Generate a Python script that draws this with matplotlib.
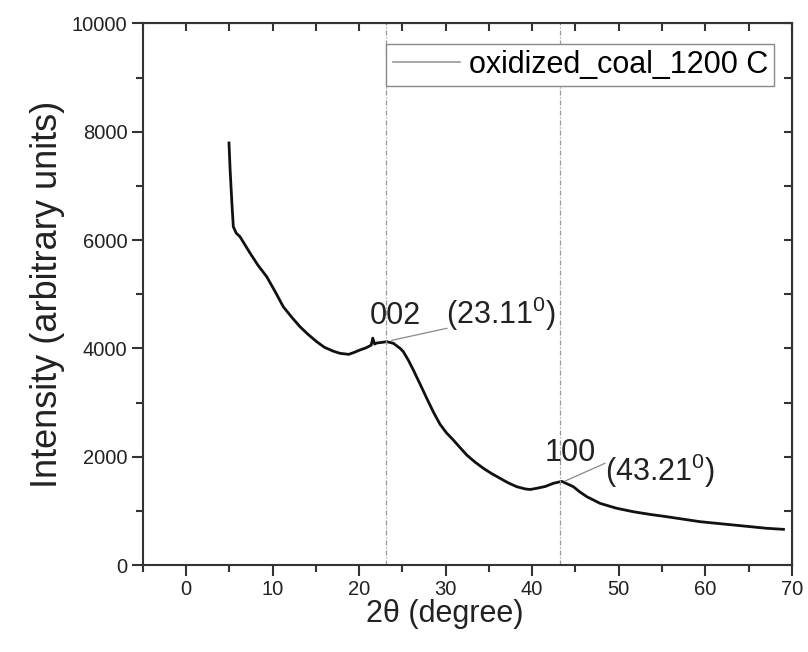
import matplotlib
matplotlib.use("Agg")
import matplotlib.pyplot as plt
from matplotlib.lines import Line2D
from matplotlib.ticker import MultipleLocator

# 2-theta (degree) and intensity
two_theta = [4.97, 5.1, 5.3, 5.47, 5.8, 6.24, 7.4, 8.3, 9.33, 10.3, 11.24, 12.2,
             13.17, 14.1, 15.1, 16.0, 17.0, 17.8, 18.8, 19.5, 20.1, 20.8, 21.4,
             21.58, 21.8, 22.04, 22.6, 23.19, 23.96, 24.73, 25.11, 25.7, 26.27,
             27.05, 27.82, 28.6, 29.35, 30.1, 30.89, 31.6, 32.44, 33.4, 34.36,
             35.3, 36.29, 37.2, 38.22, 39.2, 39.76, 40.53, 41.5, 42.45, 43.42,
             44.76, 45.5, 46.31, 47.84, 49.7, 51.69, 53.6, 55.55, 59.4, 63.25,
             67.11, 69.03]
intensity = [7793, 7300, 6700, 6248, 6130, 6063, 5761, 5540, 5324, 5050, 4770, 4580,
             4401, 4260, 4124, 4020, 3950, 3909, 3890, 3930, 3971, 4010, 4060,
             4190, 4080, 4100, 4110, 4125, 4094, 4002, 3940, 3780, 3601,
             3340, 3078, 2820, 2600, 2440, 2308, 2180, 2031, 1900, 1786,
             1690, 1601, 1520, 1446, 1405, 1395, 1417, 1450, 1509, 1545,
             1446, 1350, 1262, 1139, 1050, 984, 935, 892, 800, 739,
             678, 659]

series_label = "oxidized_coal_1200 C"
peaks = [23.11, 43.21]
peak_names = ["002", "100"]
peak_texts = [r"(23.11$^\mathregular{0}$)", r"(43.21$^\mathregular{0}$)"]

plt.rcParams['font.family'] = ['Liberation Sans', 'DejaVu Sans']
plt.rcParams['mathtext.fontset'] = 'custom'
plt.rcParams['mathtext.rm'] = 'Liberation Sans'
plt.rcParams['mathtext.it'] = 'Liberation Sans:italic'

fig = plt.figure(figsize=(8.08, 6.52), dpi=100)
ax = fig.add_axes([0.1766, 0.1334, 0.8034, 0.8306])

ax.plot(two_theta, intensity, color='#111111', lw=2.0, solid_joinstyle='round')

for xp in peaks:
    ax.axvline(xp, color='#999999', lw=0.9, ls=(0, (4, 1.5, 1, 1.5)))

# peak labels and leader lines
name_pos = [(24.15, 4607), (44.38, 2068)]
text_pos = [(30.05, 4635), (48.42, 1740)]
leaders = [((23.78, 4149), (30.13, 4371)), ((43.8, 1551), (48.4, 1878))]
for i in range(len(peaks)):
    ax.text(name_pos[i][0], name_pos[i][1], peak_names[i], fontsize=22,
            ha='center', va='center', color='#222222')
    ax.text(text_pos[i][0], text_pos[i][1], peak_texts[i], fontsize=22,
            ha='left', va='center', color='#222222')
    (x0, y0), (x1, y1) = leaders[i]
    ax.plot([x0, x1], [y0, y1], color='#888888', lw=0.9)

ax.set_xlim(-5, 70)
ax.set_ylim(0, 10000)
ax.xaxis.set_major_locator(MultipleLocator(10))
ax.xaxis.set_minor_locator(MultipleLocator(5))
ax.yaxis.set_major_locator(MultipleLocator(2000))
ax.yaxis.set_minor_locator(MultipleLocator(1000))
ax.tick_params(which='major', direction='out', length=8, width=1.5,
               labelsize=14.5, color='#333333', labelcolor='#222222', pad=3)
ax.tick_params(which='minor', direction='out', length=5, width=1.5, color='#333333')
for s in ax.spines.values():
    s.set_linewidth(1.5)
    s.set_color('#333333')

top = ax.secondary_xaxis('top')
top.xaxis.set_major_locator(MultipleLocator(5))
top.tick_params(direction='in', length=6, width=1.5, labeltop=False, color='#333333')
right = ax.secondary_yaxis('right')
right.yaxis.set_major_locator(MultipleLocator(1000))
right.tick_params(direction='in', length=6, width=1.5, labelright=False, color='#333333')

ax.set_xlabel("2θ (degree)", fontsize=22, color='#222222')
ax.xaxis.set_label_coords(0.466, -0.063)
ax.set_ylabel("Intensity (arbitrary units)", fontsize=26, color='#222222', labelpad=5)

handle = Line2D([], [], color='#999999', lw=1.2)
leg = ax.legend([handle], [series_label], loc='upper right',
                bbox_to_anchor=(0.973, 0.962), borderaxespad=0, fontsize=22,
                fancybox=False, framealpha=1, edgecolor='#888888',
                handlelength=2.2, handletextpad=0.3, borderpad=0.2)
leg.get_frame().set_linewidth(1.0)

fig.savefig("out.png", dpi=100)
